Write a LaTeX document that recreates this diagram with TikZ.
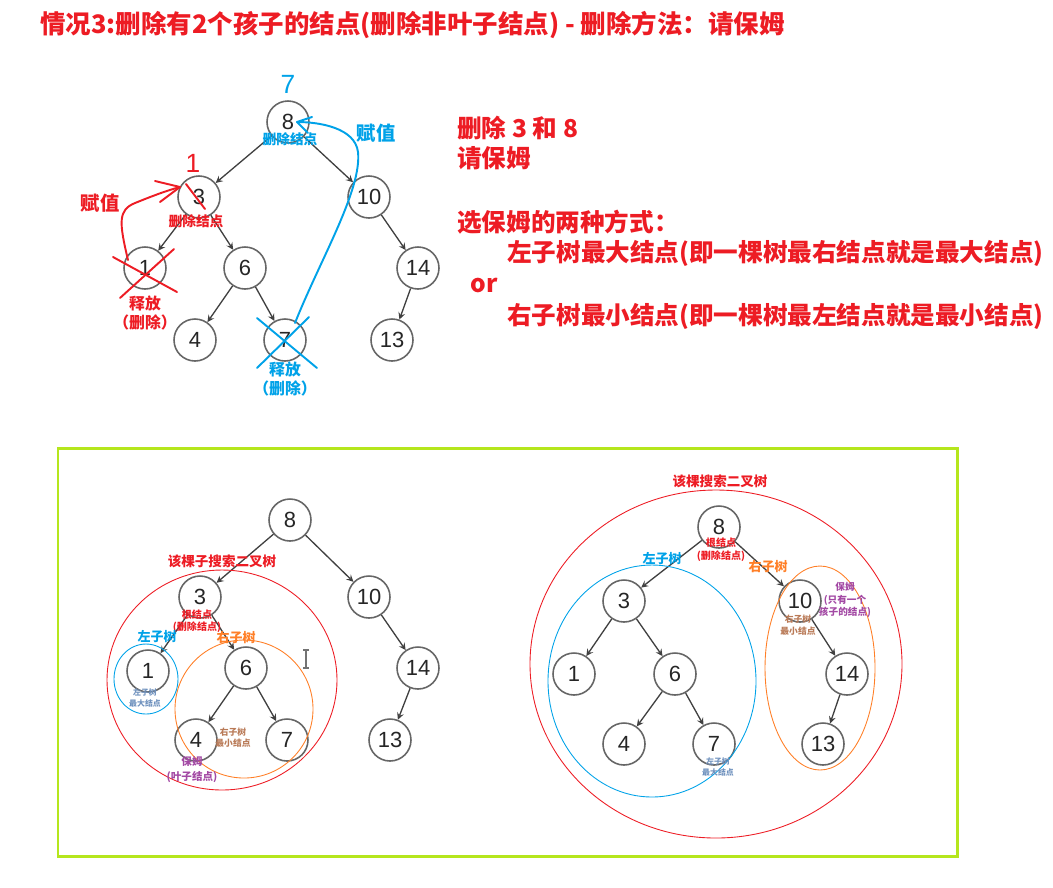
\documentclass[tikz,border=0pt]{standalone}
\usepackage{fontspec}
\setmainfont{Noto Sans CJK SC}
\newfontfamily\numfont{Liberation Sans}

\definecolor{hired}{RGB}{237,28,36}
\definecolor{hiblue}{RGB}{0,162,232}
\definecolor{hiorange}{RGB}{255,127,39}
\definecolor{hipurple}{RGB}{163,73,164}
\definecolor{hibrown}{RGB}{185,122,87}
\definecolor{hislate}{RGB}{112,146,190}
\definecolor{framegreen}{RGB}{181,230,29}

\begin{document}
\begin{tikzpicture}[
  x=0.02cm, y=-0.02cm,
  >=stealth,
  tnode/.style={circle, draw=black!60, line width=0.9pt, minimum size=0.84cm,
    inner sep=0pt, text=black!85, font=\numfont\fontsize{12.5}{12.5}\selectfont},
  edge/.style={->, black!75, line width=0.75pt},
  bigtext/.style={anchor=west, inner sep=0pt, text=hired,
    font=\bfseries\fontsize{14}{16}\selectfont},
  tiny/.style={inner sep=0pt, align=center, font=\bfseries\fontsize{#1}{#1}\selectfont},
  tiny/.default=6,
  pen/.style={line width=1.1pt, line cap=round, line join=round}
]
  \useasboundingbox (0,0) rectangle (1053,887);

  % Title
  \node[bigtext, font=\bfseries\fontsize{14.5}{16}\selectfont] (title) at (40,25)
    {情况3:删除有2个孩子的结点(删除非叶子结点) - 删除方法：请保姆};

  % Upper tree
  \node[tnode] (a8) at (288,122) {8};
  \node[tnode] (a3) at (199,197) {3};
  \node[tnode] (a10) at (369,197) {10};
  \node[tnode] (a1) at (145,268) {1};
  \node[tnode] (a6) at (245,268) {6};
  \node[tnode] (a14) at (418,268) {14};
  \node[tnode] (a4) at (195,340) {4};
  \node[tnode] (a7) at (285,340) {7};
  \node[tnode] (a13) at (392,340) {13};
  \draw[edge] (a8) -- (a3);
  \draw[edge] (a8) -- (a10);
  \draw[edge] (a3) -- (a1);
  \draw[edge] (a3) -- (a6);
  \draw[edge] (a6) -- (a4);
  \draw[edge] (a6) -- (a7);
  \draw[edge] (a10) -- (a14);
  \draw[edge] (a14) -- (a13);

  % Upper tree notes
  \node[text=hiblue, font=\numfont\fontsize{15}{15}\selectfont] (new8) at (288,84) {7};
  \node[text=hired, font=\numfont\fontsize{15}{15}\selectfont] (new3) at (193,163) {1};
  \node[tiny=7.8, text=hiblue] (adel8) at (290,139) {删除结点};
  \node[tiny=7.8, text=hired] (adel3) at (196,221) {删除结点};
  \node[tiny=9, text=hired, font=\bfseries\fontsize{9}{11}\selectfont] (arel1) at (145,313) {释放\\（删除）};
  \node[tiny=9, text=hiblue, font=\bfseries\fontsize{9}{11}\selectfont] (arel7) at (285,379) {释放\\（删除）};
  \node[tiny=11, text=hired] (aset1) at (100,203) {赋值};
  \node[tiny=11, text=hiblue] (aset2) at (376,133) {赋值};

  % Crossed out nodes
  \draw[pen, hired] (113,257) -- (177,292);
  \draw[pen, hired] (120,298) -- (174,249);
  \draw[pen, hired] (186,184) -- (205,209);
  \draw[pen, hiblue] (257,318) -- (317,368);
  \draw[pen, hiblue] (257,368) -- (309,317);

  % Hand drawn moves
  \coordinate (rfrom) at (128,260);
  \coordinate (rto) at (180,187);
  \draw[pen, hired] (rfrom) .. controls (119,222) and (118,210) .. (135,203)
    .. controls (150,197) and (165,191) .. (rto);
  \draw[pen, hired] (155,181) -- (rto) -- (160,202);
  \coordinate (bfrom) at (295,323);
  \coordinate (bto) at (297,122);
  \draw[pen, hiblue] (bfrom) .. controls (320,260) and (362,190) .. (358,152)
    .. controls (355,128) and (320,122) .. (bto);
  \draw[pen, hiblue] (312,117) -- (bto) -- (308,133);

  % Right side text
  \node[bigtext] (del) at (457,128) {删除 3 和 8};
  \node[bigtext] (nanny) at (457,158) {请保姆};
  \node[bigtext] (ways) at (457,222) {选保姆的两种方式：};
  \node[bigtext] (way1) at (507,253) {左子树最大结点(即一棵树最右结点就是最大结点)};
  \node[bigtext] (or) at (470,285) {or};
  \node[bigtext] (way2) at (507,316) {右子树最小结点(即一棵树最左结点就是最小结点)};

  % Frame
  \draw[framegreen, line width=1.7pt] (58,448) rectangle (957,856);

  % Lower left tree
  \node[tnode] (b8) at (290,520) {8};
  \node[tnode] (b3) at (200,597) {3};
  \node[tnode] (b10) at (369,597) {10};
  \node[tnode] (b1) at (148,671) {1};
  \node[tnode] (b6) at (246,668) {6};
  \node[tnode] (b14) at (418,668) {14};
  \node[tnode] (b4) at (196,740) {4};
  \node[tnode] (b7) at (287,740) {7};
  \node[tnode] (b13) at (390,740) {13};
  \draw[edge] (b8) -- (b3);
  \draw[edge] (b8) -- (b10);
  \draw[edge] (b3) -- (b1);
  \draw[edge] (b3) -- (b6);
  \draw[edge] (b6) -- (b4);
  \draw[edge] (b6) -- (b7);
  \draw[edge] (b10) -- (b14);
  \draw[edge] (b14) -- (b13);

  \draw[hired, line width=0.5pt] (222,680) ellipse [x radius=115, y radius=110];
  \draw[hiblue, line width=0.5pt] (146,679) ellipse [x radius=32, y radius=35];
  \draw[hiorange, line width=0.5pt] (244,709) ellipse [x radius=69, y radius=69];

  \node[tiny=7.7, text=hired] (bsub) at (222,561) {该棵子搜索二叉树};
  \node[tiny=5.7, text=hired, font=\bfseries\fontsize{5.7}{6.5}\selectfont] (broot) at (197,621) {根结点\\(删除结点)};
  \node[tiny=7.4, text=hiblue] (bleft) at (157,637) {左子树};
  \node[tiny=7.4, text=hiorange] (bright) at (236,638) {右子树};
  \node[tiny=4.5, text=hislate, font=\bfseries\fontsize{4.5}{5.8}\selectfont] (bmax) at (145,698) {左子树\\最大结点};
  \node[tiny=5, text=hibrown, font=\bfseries\fontsize{5}{6.3}\selectfont] (bmin) at (233,738) {右子树\\最小结点};
  \node[tiny=6, text=hipurple, font=\bfseries\fontsize{6}{8.5}\selectfont] (bnanny) at (192,770) {保姆\\(叶子结点)};

  % Text cursor
  \draw[black!55, line width=0.6pt] (306,650) -- (306,668) (303,650) -- (309,650) (303,668) -- (309,668);

  % Lower right tree
  \node[tnode] (c8) at (719,527) {8};
  \node[tnode] (c3) at (624,601) {3};
  \node[tnode] (c10) at (800,601) {10};
  \node[tnode] (c1) at (574,674) {1};
  \node[tnode] (c6) at (675,674) {6};
  \node[tnode] (c14) at (847,674) {14};
  \node[tnode] (c4) at (624,744) {4};
  \node[tnode] (c7) at (714,744) {7};
  \node[tnode] (c13) at (823,744) {13};
  \draw[edge] (c8) -- (c3);
  \draw[edge] (c8) -- (c10);
  \draw[edge] (c3) -- (c1);
  \draw[edge] (c3) -- (c6);
  \draw[edge] (c6) -- (c4);
  \draw[edge] (c6) -- (c7);
  \draw[edge] (c10) -- (c14);
  \draw[edge] (c14) -- (c13);

  \draw[hired, line width=0.5pt] (716,664) ellipse [x radius=186, y radius=174];
  \draw[hiblue, line width=0.5pt] (652,681) ellipse [x radius=104, y radius=116];
  \draw[hiorange, line width=0.5pt] (820,668) ellipse [x radius=55, y radius=102];

  \node[tiny=7.7, text=hired] (csub) at (720,481) {该棵搜索二叉树};
  \node[tiny=5.7, text=hired, font=\bfseries\fontsize{5.7}{7.5}\selectfont] (croot) at (721,550) {根结点\\(删除结点)};
  \node[tiny=7.4, text=hiblue] (cleft) at (662,559) {左子树};
  \node[tiny=7.4, text=hiorange] (cright) at (768,567) {右子树};
  \node[tiny=5.5, text=hipurple, font=\bfseries\fontsize{5.5}{7.3}\selectfont] (cnanny) at (845,600) {保姆\\(只有一个\\孩子的结点)};
  \node[tiny=5, text=hibrown, font=\bfseries\fontsize{5}{6.5}\selectfont] (cmin) at (798,625) {右子树\\最小结点};
  \node[tiny=4.5, text=hislate, font=\bfseries\fontsize{4.5}{5.8}\selectfont] (cmax) at (718,767) {左子树\\最大结点};
\end{tikzpicture}
\end{document}
